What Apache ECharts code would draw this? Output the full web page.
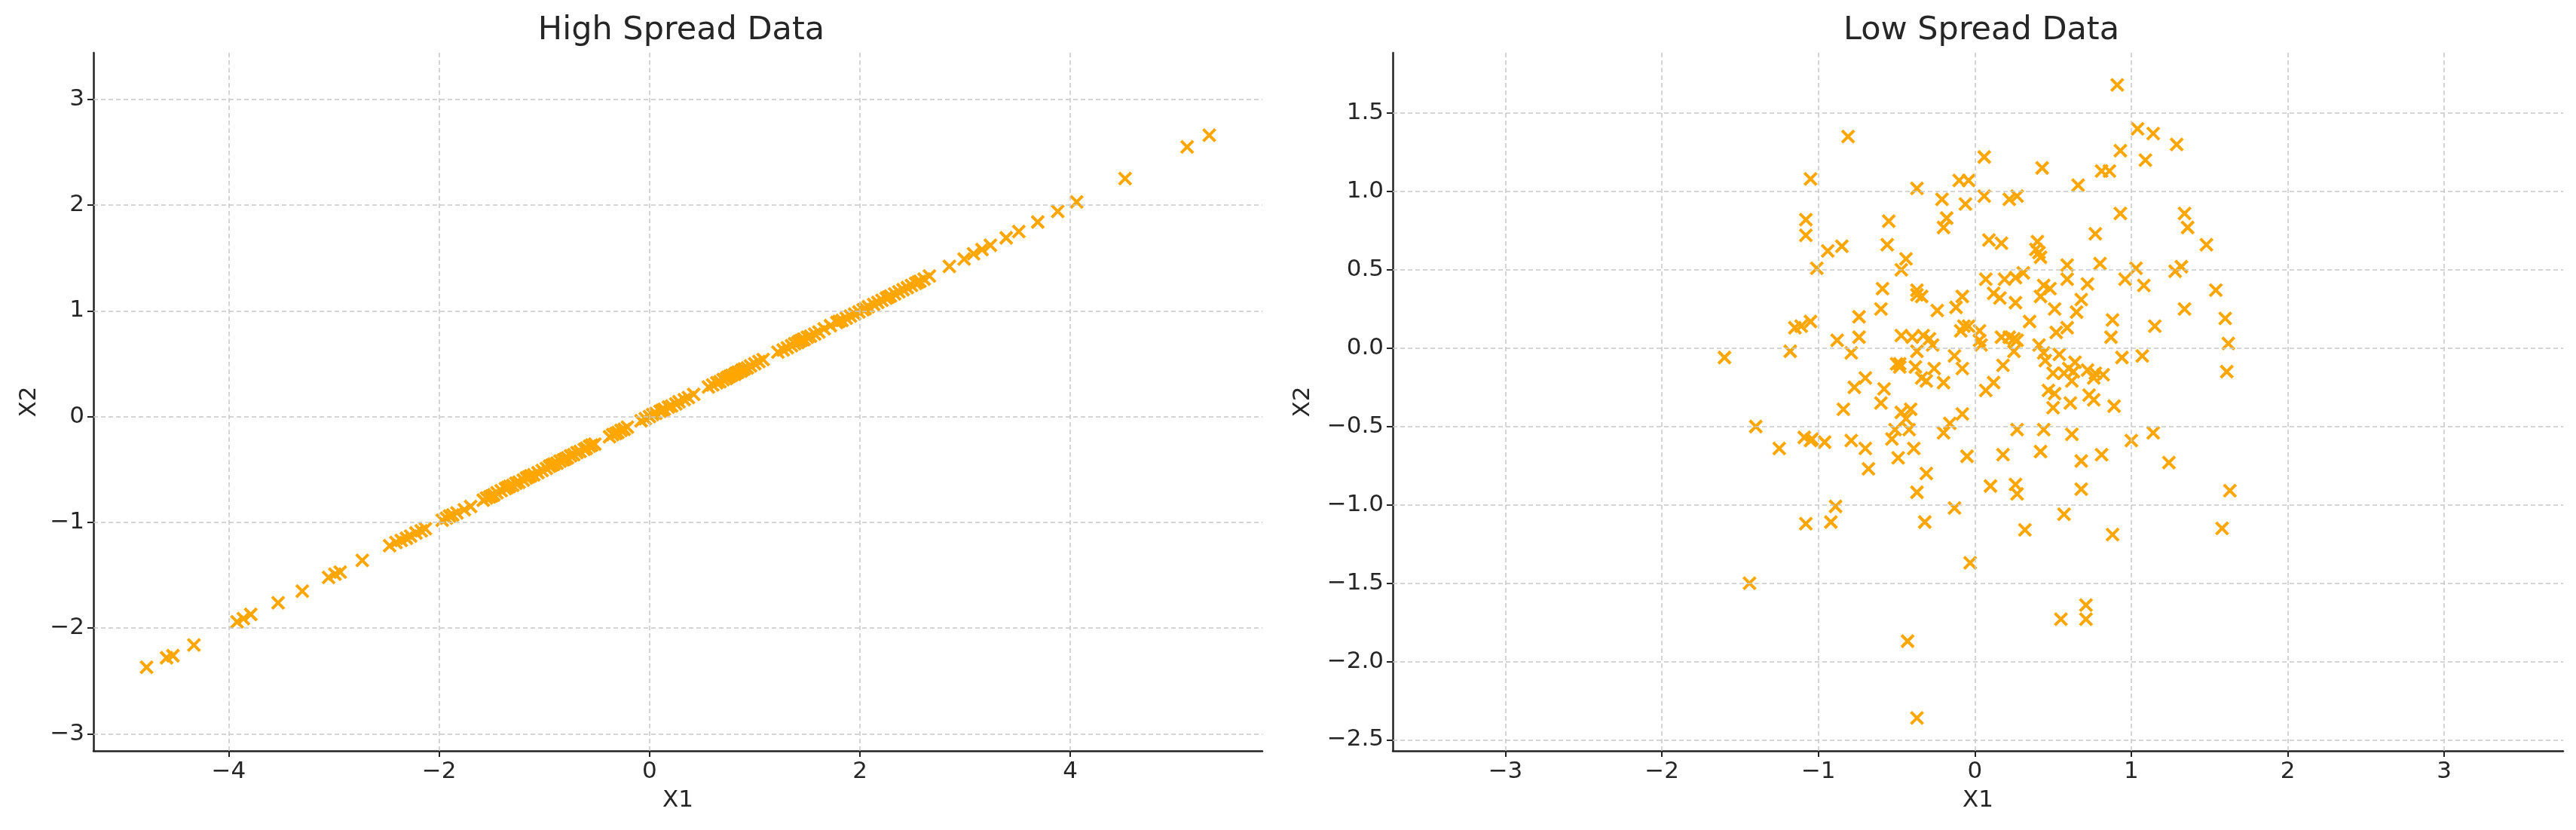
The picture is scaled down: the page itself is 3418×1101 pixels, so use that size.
<!DOCTYPE html>
<html>
<head>
<meta charset="utf-8">
<script src="https://cdn.jsdelivr.net/npm/echarts/dist/echarts.min.js"></script>
<style>
html,body{margin:0;padding:0;background:#fff;}
#chart{width:3418px;height:1101px;}
</style>
</head>
<body>
<div id="chart"></div>
<script>
// ---- Data ----
const highTitle = 'High Spread Data';
const lowTitle = 'Low Spread Data';
const xName = 'X1';
const yName = 'X2';

const highX = [-4.78,-4.59,-4.53,-4.33,-3.92,-3.86,-3.79,-3.53,-3.30,-3.05,-2.99,-2.94,-2.73,
  -2.47,-2.41,-2.36,-2.31,-2.27,-2.22,-2.17,-2.13,-1.97,-1.93,-1.90,-1.87,-1.83,-1.76,-1.70,
  -1.58,-1.55,-1.52,-1.50,-1.48,-1.45,-1.41,-1.37,-1.35,-1.33,-1.30,-1.27,-1.24,-1.20,-1.17,-1.15,-1.13,-1.10,
  -1.06,-1.02,-0.98,-0.95,-0.93,-0.91,-0.88,-0.85,-0.82,-0.80,-0.78,-0.75,-0.72,-0.69,-0.66,-0.62,-0.60,-0.57,-0.55,-0.52,
  -0.38,-0.35,-0.32,-0.30,-0.27,-0.24,-0.21,
  -0.08,-0.04,0.00,0.03,0.06,0.10,0.12,0.14,0.18,0.21,0.25,0.28,0.33,0.37,0.42,
  0.56,0.60,0.64,0.67,0.70,0.73,0.74,0.76,0.78,0.81,0.82,0.84,0.87,0.88,0.90,0.93,0.96,1.00,1.04,1.08,
  1.22,1.27,1.31,1.35,1.38,1.41,1.42,1.44,1.46,1.47,1.50,1.53,1.57,1.61,
  1.66,1.72,1.78,1.80,1.83,1.87,1.91,1.95,1.99,2.03,2.05,2.08,2.13,2.17,2.21,2.25,2.27,2.29,2.33,2.37,2.41,2.45,2.49,2.53,2.55,2.57,2.61,2.66,
  2.85,2.99,3.08,3.16,3.24,3.39,3.51,3.69,3.88,4.06,4.52,5.11,5.32];
const highY = [-2.37,-2.28,-2.26,-2.16,-1.94,-1.91,-1.87,-1.76,-1.65,-1.52,-1.49,-1.47,-1.36,
  -1.22,-1.19,-1.17,-1.15,-1.13,-1.10,-1.08,-1.06,-0.98,-0.96,-0.94,-0.93,-0.91,-0.88,-0.85,
  -0.79,-0.77,-0.76,-0.75,-0.74,-0.72,-0.70,-0.68,-0.67,-0.66,-0.65,-0.63,-0.62,-0.60,-0.58,-0.57,-0.56,-0.55,
  -0.53,-0.51,-0.49,-0.47,-0.46,-0.45,-0.44,-0.42,-0.41,-0.40,-0.39,-0.37,-0.36,-0.34,-0.33,-0.31,-0.30,-0.28,-0.27,-0.26,
  -0.19,-0.17,-0.16,-0.15,-0.13,-0.12,-0.10,
  -0.04,-0.02,0.00,0.02,0.03,0.05,0.06,0.07,0.09,0.10,0.12,0.14,0.16,0.18,0.21,
  0.28,0.30,0.32,0.33,0.35,0.36,0.37,0.38,0.39,0.40,0.41,0.42,0.43,0.44,0.45,0.46,0.48,0.50,0.52,0.54,
  0.61,0.63,0.65,0.67,0.69,0.70,0.71,0.72,0.73,0.73,0.75,0.76,0.78,0.80,
  0.83,0.86,0.89,0.90,0.91,0.93,0.95,0.97,0.99,1.01,1.02,1.04,1.06,1.08,1.10,1.12,1.13,1.14,1.16,1.18,1.20,1.22,1.24,1.26,1.27,1.28,1.30,1.33,
  1.42,1.49,1.54,1.58,1.62,1.69,1.75,1.84,1.94,2.03,2.25,2.55,2.66];

const lowX = [0.91,-0.81,1.04,1.14,1.29,0.93,1.09,0.06,0.43,0.81,0.86,-1.05,-0.10,-0.04,0.66,-0.37,
  0.06,0.27,0.22,-0.21,-0.06,0.93,1.34,1.36,-1.08,-0.55,-0.18,-0.20,-1.08,0.77,0.09,0.17,0.40,0.39,0.41,0.42,
  -0.56,-0.85,-0.94,1.48,-0.44,-1.01,-0.47,0.59,0.80,1.03,1.28,1.32,0.31,0.07,0.19,0.26,0.96,0.59,1.08,0.44,
  0.48,0.72,1.54,-0.59,-0.37,-0.37,-0.34,0.12,0.16,0.42,0.68,0.26,-0.08,-0.12,-0.60,-0.24,0.51,0.65,1.34,
  -0.74,1.60,0.88,0.35,-1.05,-1.11,-1.15,-0.07,-0.04,0.59,1.15,-0.09,0.03,0.52,0.87,-0.88,-0.74,-0.47,-0.40,
  -0.33,-0.29,-0.27,0.03,0.04,0.17,0.22,0.25,0.27,1.62,0.41,-1.60,-1.18,-0.79,-0.37,0.25,0.44,0.54,-0.13,
  0.94,1.07,0.45,0.64,-0.50,-0.48,-0.48,0.18,-0.38,-0.08,-0.26,0.60,1.61,0.50,0.57,0.63,0.72,0.77,0.82,
  -0.34,-0.31,-0.70,-0.20,0.12,0.62,0.76,-0.77,-0.58,0.07,0.47,0.51,0.73,0.76,-0.60,0.61,0.89,0.50,-0.84,
  -0.41,-0.47,-0.44,-0.08,-1.40,-0.16,-0.51,-0.42,0.27,0.44,-0.20,1.14,0.62,-1.09,-1.04,-1.05,-0.96,-0.79,
  -0.53,1.00,-1.25,-0.70,-0.39,0.42,-0.05,0.18,0.81,-0.49,0.68,1.24,-0.68,-0.31,0.10,0.26,0.27,0.68,1.63,
  -0.37,-0.89,-0.13,-1.08,-0.92,-0.32,0.57,0.32,1.58,0.88,-0.03,-1.44,0.71,0.55,0.71,-0.43,-0.37];
const lowY = [1.68,1.35,1.40,1.37,1.30,1.26,1.20,1.22,1.15,1.13,1.13,1.08,1.07,1.07,1.04,1.02,
  0.97,0.97,0.95,0.95,0.92,0.86,0.86,0.77,0.82,0.81,0.83,0.77,0.72,0.73,0.69,0.67,0.68,0.63,0.61,0.58,
  0.66,0.65,0.62,0.66,0.57,0.51,0.50,0.53,0.54,0.51,0.49,0.52,0.48,0.44,0.44,0.45,0.44,0.44,0.40,0.40,
  0.38,0.41,0.37,0.38,0.37,0.34,0.33,0.35,0.32,0.33,0.31,0.29,0.33,0.26,0.25,0.24,0.25,0.23,0.25,
  0.20,0.19,0.18,0.17,0.17,0.14,0.13,0.14,0.14,0.13,0.14,0.11,0.11,0.10,0.07,0.05,0.07,0.08,0.07,
  0.08,0.06,0.02,0.05,0.02,0.07,0.07,0.06,0.05,0.03,0.02,-0.06,-0.02,-0.03,-0.02,-0.02,-0.03,-0.04,-0.05,
  -0.06,-0.05,-0.08,-0.09,-0.10,-0.10,-0.12,-0.11,-0.12,-0.13,-0.13,-0.13,-0.15,-0.16,-0.16,-0.15,-0.14,-0.16,-0.17,
  -0.19,-0.21,-0.19,-0.22,-0.22,-0.21,-0.19,-0.25,-0.26,-0.27,-0.27,-0.29,-0.30,-0.33,-0.35,-0.35,-0.37,-0.38,-0.39,
  -0.39,-0.41,-0.45,-0.42,-0.50,-0.48,-0.52,-0.52,-0.52,-0.52,-0.54,-0.54,-0.55,-0.57,-0.58,-0.59,-0.60,-0.59,
  -0.58,-0.59,-0.64,-0.64,-0.64,-0.66,-0.69,-0.68,-0.68,-0.70,-0.72,-0.73,-0.77,-0.80,-0.88,-0.87,-0.93,-0.90,-0.91,
  -0.92,-1.01,-1.02,-1.12,-1.11,-1.11,-1.06,-1.16,-1.15,-1.19,-1.37,-1.50,-1.64,-1.73,-1.73,-1.87,-2.36];

const highXTicks = [-4, -2, 0, 2, 4];
const highYTicks = [-3, -2, -1, 0, 1, 2, 3];
const lowXTicks = [-3, -2, -1, 0, 1, 2, 3];
const lowYTicks = [-2.5, -2.0, -1.5, -1.0, -0.5, 0.0, 0.5, 1.0, 1.5];

// ---- Build chart ----
const TEXT = '#262626';
const FONT = 'DejaVu Sans';
const MARK = '#FFA600';

function pairs(xs, ys) { return xs.map((x, i) => [x, ys[i]]); }
function fmtInt(v) { return (v < 0 ? '\u2212' : '') + Math.abs(v); }
function fmtOne(v) { return (v < 0 ? '\u2212' : '') + Math.abs(v).toFixed(1); }

function xAxisCfg(gi, min, max, ticks, fmt) {
  return {
    type: 'value', gridIndex: gi, min: min, max: max,
    name: xName, nameLocation: 'middle', nameGap: 50,
    nameTextStyle: { fontSize: 31, color: TEXT, fontFamily: FONT },
    axisLine: { show: true, onZero: false, lineStyle: { color: '#222', width: 2.5 } },
    axisTick: { show: true, customValues: ticks, length: 8, lineStyle: { color: '#222', width: 2 } },
    axisLabel: { show: true, customValues: ticks, formatter: fmt, fontSize: 31, color: TEXT, fontFamily: FONT, margin: 12 },
    splitLine: { show: false }
  };
}
function yAxisCfg(gi, min, max, ticks, fmt, gap) {
  return {
    type: 'value', gridIndex: gi, min: min, max: max,
    name: yName, nameLocation: 'middle', nameGap: gap, nameRotate: 90,
    nameTextStyle: { fontSize: 31, color: TEXT, fontFamily: FONT },
    axisLine: { show: true, onZero: false, lineStyle: { color: '#222', width: 2.5 } },
    axisTick: { show: true, customValues: ticks, length: 8, lineStyle: { color: '#222', width: 2 } },
    axisLabel: { show: true, customValues: ticks, formatter: fmt, fontSize: 31, color: TEXT, fontFamily: FONT, margin: 12 },
    splitLine: { show: false }
  };
}
function gridSeries(idx, xt, yt) {
  const data = xt.map(v => ({ xAxis: v })).concat(yt.map(v => ({ yAxis: v })));
  return {
    type: 'scatter', xAxisIndex: idx, yAxisIndex: idx, data: [], z: 1, silent: true,
    markLine: {
      silent: true, symbol: ['none', 'none'], label: { show: false }, animation: false,
      lineStyle: { color: '#c8c8c8', width: 1.5, type: [6, 4] },
      emphasis: { disabled: true },
      data: data
    }
  };
}
function dataSeries(idx, xs, ys) {
  return {
    type: 'scatter', xAxisIndex: idx, yAxisIndex: idx, z: 3,
    symbol: 'path://M0,0L10,10M10,0L0,10', symbolSize: 16,
    itemStyle: { color: MARK, borderColor: MARK, borderWidth: 4, opacity: 1 },
    data: pairs(xs, ys)
  };
}

const chart = echarts.init(document.getElementById('chart'), null, { renderer: 'canvas' });
chart.setOption({
  animation: false,
  backgroundColor: '#ffffff',
  title: [
    { text: highTitle, left: 899, top: 14, textAlign: 'center', textStyle: { fontSize: 43, fontWeight: 'normal', color: TEXT, fontFamily: FONT } },
    { text: lowTitle, left: 2624, top: 14, textAlign: 'center', textStyle: { fontSize: 43, fontWeight: 'normal', color: TEXT, fontFamily: FONT } }
  ],
  grid: [
    { left: 124, top: 70, width: 1551, height: 926 },
    { left: 1848, top: 70, width: 1553, height: 926 }
  ],
  xAxis: [
    xAxisCfg(0, -5.285, 5.825, highXTicks, fmtInt),
    xAxisCfg(1, -3.72, 3.76, lowXTicks, fmtInt)
  ],
  yAxis: [
    yAxisCfg(0, -3.16, 3.44, highYTicks, fmtInt, 70),
    yAxisCfg(1, -2.57, 1.885, lowYTicks, fmtOne, 104)
  ],
  series: [
    gridSeries(0, highXTicks, highYTicks),
    gridSeries(1, lowXTicks, lowYTicks),
    dataSeries(0, highX, highY),
    dataSeries(1, lowX, lowY)
  ]
});
</script>
</body>
</html>
